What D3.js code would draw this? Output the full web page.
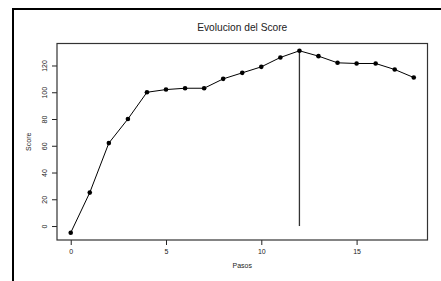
<!DOCTYPE html>
<html>
<head>
<meta charset="utf-8">
<script src="https://cdn.jsdelivr.net/npm/d3@7"></script>
<style>
  body { margin: 0; background: #fff; }
  svg text { font-family: "Liberation Sans", Arial, sans-serif; fill: #222; }
</style>
</head>
<body>
<div id="chart"></div>
<script>
// data
var pasos = [0, 1, 2, 3, 4, 5, 6, 7, 8, 9, 10, 11, 12, 13, 14, 15, 16, 17, 18];
var score = [-5, 25, 62, 80, 100, 102, 103, 103, 110, 114.5, 119, 126, 131, 127, 122, 121.5, 121.5, 117, 111];
var xTicks = [0, 5, 10, 15];
var yTicks = [0, 20, 40, 60, 80, 100, 120];
var bestPaso = 12;

var W = 441, H = 281;
var margin = { top: 43.5, right: 13.5, bottom: 41, left: 57 },
    width = 427.5 - margin.left,
    height = 240 - margin.top;

var svg = d3.select("#chart")
    .append("svg")
    .attr("width", W)
    .attr("height", H);

// outer frame (left + top only, cut off by the window)
svg.append("path")
    .attr("d", "M13,281 V9 H441")
    .attr("fill", "none")
    .attr("stroke", "#000")
    .attr("stroke-width", 2);

var g = svg.append("g")
    .attr("transform", "translate(" + margin.left + "," + margin.top + ")");

// R style 4% padding on both axes
var xExt = d3.extent(pasos), yExt = d3.extent(score);
var xPad = (xExt[1] - xExt[0]) * 0.04, yPad = (yExt[1] - yExt[0]) * 0.04;

var x = d3.scaleLinear()
    .domain([xExt[0] - xPad, xExt[1] + xPad])
    .range([0, width]);

var y = d3.scaleLinear()
    .domain([yExt[0] - yPad, yExt[1] + yPad])
    .range([height, 0]);

// X axis
var xAxis = g.append("g")
    .attr("transform", "translate(0," + height + ")")
    .call(d3.axisBottom(x).tickValues(xTicks).tickSize(5).tickPadding(4));
xAxis.select(".domain").remove();
xAxis.selectAll("line").attr("stroke", "#222");
xAxis.selectAll("text").style("font-size", "7px").attr("fill", "#222");

// Y axis (labels rotated like R)
var yAxis = g.append("g")
    .call(d3.axisLeft(y).tickValues(yTicks).tickSize(5));
yAxis.select(".domain").remove();
yAxis.selectAll("line").attr("stroke", "#222");
yAxis.selectAll("text")
    .style("font-size", "7px")
    .attr("fill", "#222")
    .attr("x", 0)
    .attr("dy", 0)
    .attr("text-anchor", "middle")
    .attr("transform", "translate(-13,0) rotate(-90)")
    .attr("y", 2.5);

// plot box
g.append("rect")
    .attr("width", width)
    .attr("height", height)
    .attr("fill", "none")
    .attr("stroke", "#333")
    .attr("stroke-width", 1.2);

// vertical marker at the best step
g.append("line")
    .attr("x1", x(bestPaso))
    .attr("x2", x(bestPaso))
    .attr("y1", y(0))
    .attr("y2", y(score[pasos.indexOf(bestPaso)]))
    .attr("stroke", "#333")
    .attr("stroke-width", 1.3);

// line + points
var line = d3.line()
    .x(function (d, i) { return x(pasos[i]); })
    .y(function (d) { return y(d); });

g.append("path")
    .datum(score)
    .attr("fill", "none")
    .attr("stroke", "#000")
    .attr("stroke-width", 1)
    .attr("d", line);

g.selectAll(".pt")
    .data(score)
    .enter().append("circle")
    .attr("class", "pt")
    .attr("cx", function (d, i) { return x(pasos[i]); })
    .attr("cy", function (d) { return y(d); })
    .attr("r", 2.3)
    .attr("fill", "#000");

// titles
svg.append("text")
    .attr("x", margin.left + width / 2)
    .attr("y", 30.5)
    .attr("text-anchor", "middle")
    .style("font-size", "10.2px")
    .text("Evolucion del Score");

svg.append("text")
    .attr("x", margin.left + width / 2)
    .attr("y", 268)
    .attr("text-anchor", "middle")
    .style("font-size", "7px")
    .text("Pasos");

svg.append("text")
    .attr("transform", "translate(31," + (margin.top + height / 2) + ") rotate(-90)")
    .attr("text-anchor", "middle")
    .style("font-size", "7px")
    .attr("fill", "#222")
    .text("Score");
</script>
</body>
</html>
